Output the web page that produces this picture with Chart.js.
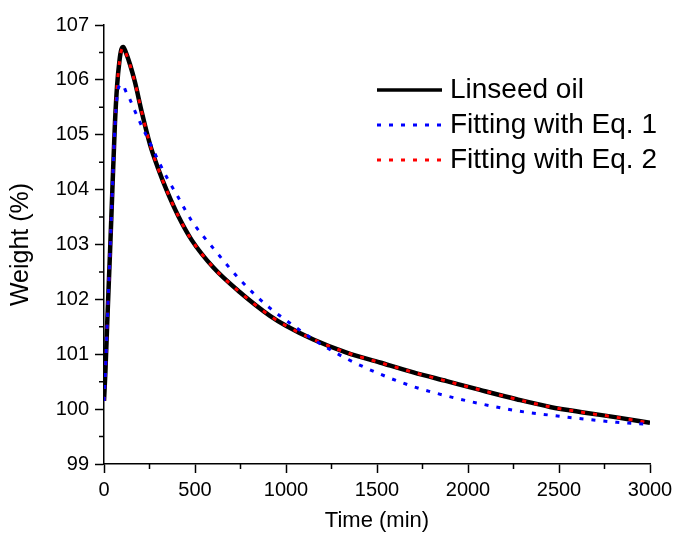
<!DOCTYPE html>
<html>
<head>
<meta charset="utf-8">
<title>Linseed oil weight</title>
<script src="https://cdn.jsdelivr.net/npm/chart.js@4/dist/chart.umd.min.js"></script>
<style>
  html, body { margin: 0; padding: 0; background: #fff; }
  #wrap { width: 674px; height: 534px; }
</style>
</head>
<body>
<div id="wrap"><canvas id="weightChart" width="674" height="534"></canvas></div>
<script>
// time points (min)
const timeMin = [0, 8, 18, 33, 46, 60, 72, 85, 95, 106, 120, 143, 170, 207, 253, 298, 344, 408, 482, 601, 747, 912, 1000, 1150, 1333, 1516, 1700, 1883, 2066, 2267, 2451, 2634, 2817, 3000];

// weight (%) for each series
const linseedOil = [100.15, 100.7, 101.6, 102.85, 104.0, 105.2, 105.9, 106.35, 106.55, 106.6, 106.5, 106.28, 105.96, 105.42, 104.82, 104.38, 103.99, 103.52, 103.08, 102.58, 102.13, 101.7, 101.52, 101.27, 101.03, 100.85, 100.67, 100.51, 100.35, 100.18, 100.04, 99.94, 99.85, 99.75];
const fitEq1 = [100.15, 100.7, 101.6, 102.85, 104.0, 105.15, 105.7, 105.9, 105.92, 105.9, 105.79, 105.64, 105.43, 105.16, 104.85, 104.53, 104.23, 103.86, 103.43, 102.93, 102.36, 101.84, 101.62, 101.27, 100.92, 100.64, 100.41, 100.24, 100.1, 99.97, 99.89, 99.82, 99.76, 99.72];
const fitEq2 = [100.15, 100.7, 101.6, 102.85, 104.0, 105.2, 105.88, 106.33, 106.53, 106.58, 106.49, 106.27, 105.95, 105.42, 104.82, 104.38, 103.99, 103.52, 103.08, 102.58, 102.13, 101.7, 101.52, 101.27, 101.03, 100.85, 100.67, 100.51, 100.35, 100.18, 100.04, 99.94, 99.85, 99.75];

const seriesLabels = ['Linseed oil', 'Fitting with Eq. 1', 'Fitting with Eq. 2'];

// axis ticks
const xMajorTicks = [0, 500, 1000, 1500, 2000, 2500, 3000];
const xMinorTicks = [250, 750, 1250, 1750, 2250, 2750];
const yMajorTicks = [99, 100, 101, 102, 103, 104, 105, 106, 107];
const yMinorTicks = [99.5, 100.5, 101.5, 102.5, 103.5, 104.5, 105.5, 106.5];

Chart.defaults.font.family = "'Liberation Sans', Arial, sans-serif";
Chart.defaults.color = '#000';

function toPoints(values) {
    return timeMin.map((t, i) => ({ x: t, y: values[i] }));
}

// short ticks between the labelled ones
const minorTicks = {
    id: 'minorTicks',
    afterDraw(chart) {
        const ctx = chart.ctx;
        const area = chart.chartArea;
        const xs = chart.scales.x;
        const ys = chart.scales.y;
        ctx.save();
        ctx.strokeStyle = '#000';
        ctx.lineWidth = 1.5;
        ctx.beginPath();
        xMinorTicks.forEach(v => {
            const px = xs.getPixelForValue(v);
            ctx.moveTo(px, area.bottom);
            ctx.lineTo(px, area.bottom + 5);
        });
        yMinorTicks.forEach(v => {
            const py = ys.getPixelForValue(v);
            ctx.moveTo(area.left - 5, py);
            ctx.lineTo(area.left, py);
        });
        ctx.stroke();
        ctx.restore();
    }
};

// legend inside the plot, top right
const insideLegend = {
    id: 'insideLegend',
    afterDraw(chart) {
        const ctx = chart.ctx;
        const x0 = 377, x1 = 442, textX = 450;
        const rowY = [90, 125, 160];
        ctx.save();
        chart.data.datasets.forEach((ds, i) => {
            const y = rowY[i];
            ctx.strokeStyle = ds.borderColor;
            ctx.lineWidth = ds.legendWidth;
            ctx.setLineDash(ds.borderDash || []);
            ctx.beginPath();
            ctx.moveTo(x0, y);
            ctx.lineTo(x1, y);
            ctx.stroke();
            ctx.setLineDash([]);
            ctx.fillStyle = '#000';
            ctx.font = "28px 'Liberation Sans', Arial, sans-serif";
            ctx.textBaseline = 'middle';
            ctx.textAlign = 'left';
            ctx.fillText(ds.label, textX, y);
        });
        ctx.restore();
    }
};

const ctx = document.getElementById('weightChart').getContext('2d');
new Chart(ctx, {
    type: 'line',
    data: {
        datasets: [
            {
                label: seriesLabels[0],
                data: toPoints(linseedOil),
                borderColor: '#000000',
                borderWidth: 4.5,
                legendWidth: 3.5,
                pointRadius: 0,
                cubicInterpolationMode: 'monotone',
                order: 3
            },
            {
                label: seriesLabels[1],
                data: toPoints(fitEq1),
                borderColor: '#0000ff',
                borderWidth: 3,
                legendWidth: 3,
                borderDash: [4, 8],
                borderCapStyle: 'butt',
                pointRadius: 0,
                cubicInterpolationMode: 'monotone',
                order: 1
            },
            {
                label: seriesLabels[2],
                data: toPoints(fitEq2),
                borderColor: '#ff0000',
                borderWidth: 3,
                legendWidth: 3,
                borderDash: [4, 8],
                borderCapStyle: 'butt',
                pointRadius: 0,
                cubicInterpolationMode: 'monotone',
                order: 2
            }
        ]
    },
    options: {
        responsive: false,
        animation: false,
        devicePixelRatio: 1,
        layout: { padding: { top: 25, right: 24, bottom: 0, left: 0 } },
        plugins: {
            legend: { display: false },
            tooltip: { enabled: false }
        },
        scales: {
            x: {
                type: 'linear',
                min: 0,
                max: 3000,
                afterBuildTicks: s => { s.ticks = xMajorTicks.map(v => ({ value: v })); },
                afterFit: s => { s.height = 70; s.paddingLeft = 0; s.paddingRight = 0; },
                grid: { drawOnChartArea: false, tickLength: 9, tickColor: '#000', tickWidth: 1.5 },
                border: { color: '#000', width: 1.5 },
                ticks: { color: '#000', font: { size: 20 }, padding: 5, maxRotation: 0, callback: v => String(v) },
                title: { display: true, text: 'Time (min)', color: '#000', font: { size: 22 }, padding: { top: 0, bottom: 0 } }
            },
            y: {
                min: 99,
                max: 107,
                afterBuildTicks: s => { s.ticks = yMajorTicks.map(v => ({ value: v })); },
                afterFit: s => { s.width = 104; },
                grid: { drawOnChartArea: false, tickLength: 9, tickColor: '#000', tickWidth: 1.5 },
                border: { color: '#000', width: 1.5 },
                ticks: { color: '#000', font: { size: 20 }, padding: 6, callback: v => String(v) },
                title: { display: true, text: 'Weight (%)', color: '#000', font: { size: 25 }, padding: { top: 6, bottom: 0 } }
            }
        }
    },
    plugins: [minorTicks, insideLegend]
});
</script>
</body>
</html>
